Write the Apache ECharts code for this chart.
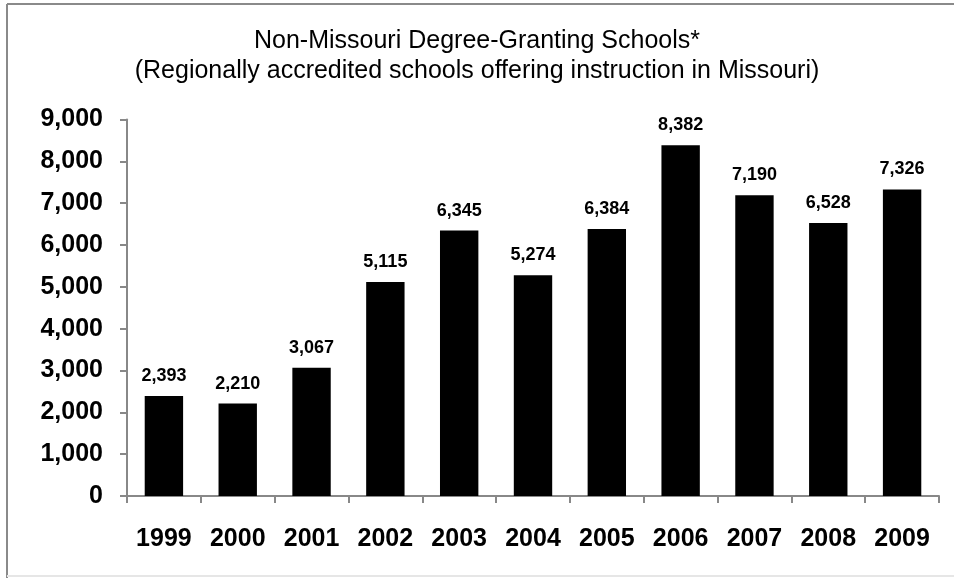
<!DOCTYPE html>
<html>
<head>
<meta charset="utf-8">
<script src="https://cdn.jsdelivr.net/npm/echarts@6/dist/echarts.min.js"></script>
<style>
html,body{margin:0;padding:0;background:#fff;}
#c{width:954px;height:578px;}
</style>
</head>
<body>
<div id="c"></div>
<script>
const categories = ['1999','2000','2001','2002','2003','2004','2005','2006','2007','2008','2009'];
const values = [2393, 2210, 3067, 5115, 6345, 5274, 6384, 8382, 7190, 6528, 7326];
const yTicks = [0, 1000, 2000, 3000, 4000, 5000, 6000, 7000, 8000, 9000];
const titleLines = ['Non-Missouri Degree-Granting Schools*', '(Regionally accredited schools offering instruction in Missouri)'];

const fmt = v => v.toLocaleString('en-US');
const chart = echarts.init(document.getElementById('c'));
chart.setOption({
  backgroundColor: '#fff',
  animation: false,
  title: {
    text: titleLines.join('\n'),
    left: 'center',
    top: 26,
    padding: 0,
    textStyle: {
      fontFamily: 'Liberation Sans, Arial, sans-serif',
      fontSize: 25,
      fontWeight: 'normal',
      color: '#000',
      lineHeight: 30
    }
  },
  graphic: [
    { type: 'line', shape: { x1: 7, y1: 4, x2: 954, y2: 4 }, style: { stroke: '#8a8a8a', lineWidth: 2 } },
    { type: 'line', shape: { x1: 7, y1: 4, x2: 7, y2: 578 }, style: { stroke: '#8a8a8a', lineWidth: 2 } },
    { type: 'line', shape: { x1: 7, y1: 576, x2: 954, y2: 576 }, style: { stroke: '#e6e6e6', lineWidth: 2 } }
  ],
  grid: { left: 127, right: 15, top: 119.5, bottom: 82, containLabel: false },
  xAxis: {
    type: 'category',
    data: categories,
    axisLine: { lineStyle: { color: '#888', width: 2 } },
    axisTick: { show: true, length: 7, lineStyle: { color: '#888', width: 2 } },
    axisLabel: {
      margin: 31,
      fontFamily: 'Liberation Sans, Arial, sans-serif',
      fontSize: 25,
      fontWeight: 'bold',
      color: '#000'
    }
  },
  yAxis: {
    type: 'value',
    min: yTicks[0],
    max: yTicks[yTicks.length - 1],
    interval: 1000,
    splitLine: { show: false },
    axisLine: { show: true, lineStyle: { color: '#888', width: 2 } },
    axisTick: { show: true, length: 7, lineStyle: { color: '#888', width: 2 } },
    axisLabel: {
      margin: 24,
      fontFamily: 'Liberation Sans, Arial, sans-serif',
      fontSize: 25,
      fontWeight: 'bold',
      color: '#000',
      formatter: v => fmt(v)
    }
  },
  series: [{
    type: 'bar',
    data: values,
    barCategoryGap: '48%',
    itemStyle: { color: '#000' },
    label: {
      show: true,
      position: 'top',
      distance: 11,
      fontFamily: 'Liberation Sans, Arial, sans-serif',
      fontSize: 18,
      fontWeight: 'bold',
      color: '#000',
      formatter: p => fmt(p.value)
    }
  }]
});
</script>
</body>
</html>
